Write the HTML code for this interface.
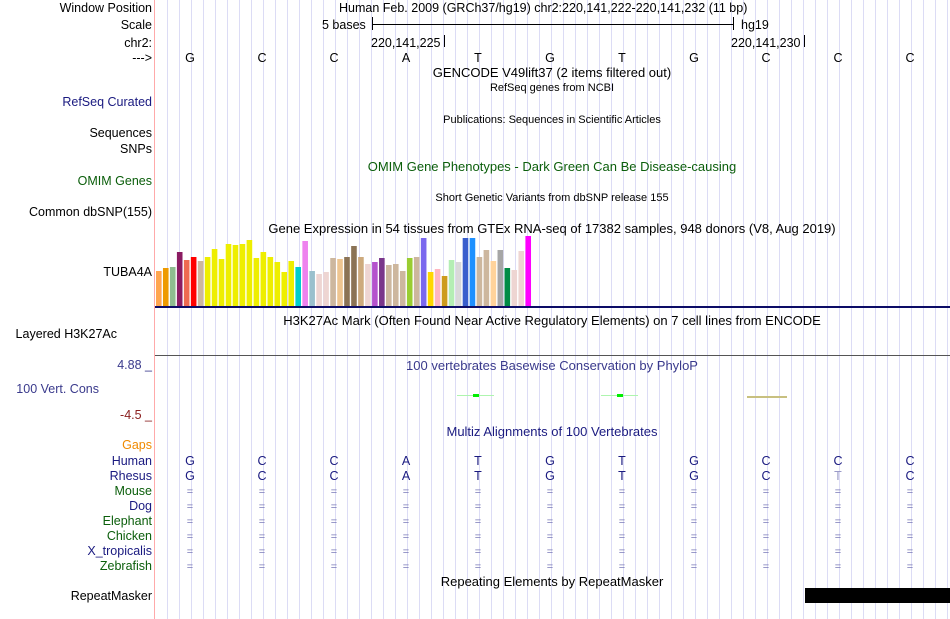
<!DOCTYPE html>
<html><head><meta charset="utf-8"><style>
html,body{margin:0;padding:0;background:#fff;}
svg{display:block;font-family:"Liberation Sans",sans-serif;}
</style></head><body>
<svg id="c" width="950" height="619" viewBox="0 0 950 619">
<g id="grid"></g>
<line x1="154.5" y1="0" x2="154.5" y2="619" stroke="#ffaaaa"/>
<g font-size="12.5" text-anchor="end">
<text x="152" y="12" fill="#000">Window Position</text>
<text x="152" y="29" fill="#000">Scale</text>
<text x="152" y="47" fill="#000">chr2:</text>
<text x="152" y="62" fill="#000">---&gt;</text>
<text x="152" y="106" fill="#1a1a80">RefSeq Curated</text>
<text x="152" y="137" fill="#000">Sequences</text>
<text x="152" y="153" fill="#000">SNPs</text>
<text x="152" y="185" fill="#0b5e0b">OMIM Genes</text>
<text x="152" y="216" fill="#000">Common dbSNP(155)</text>
<text x="152" y="276" fill="#000">TUBA4A</text>
<text x="117" y="338" fill="#000">Layered H3K27Ac</text>
<text x="152" y="369" fill="#3a3a8c">4.88 _</text>
<text x="99" y="393" fill="#3a3a8c">100 Vert. Cons</text>
<text x="152" y="419" fill="#8b2020">-4.5 _</text>
<text x="152" y="449" fill="#f08a00">Gaps</text>
<text x="152" y="465" fill="#1a1a80">Human</text>
<text x="152" y="480" fill="#1a1a80">Rhesus</text>
<text x="152" y="495" fill="#0b5e0b">Mouse</text>
<text x="152" y="510" fill="#1a1a80">Dog</text>
<text x="152" y="525" fill="#0b5e0b">Elephant</text>
<text x="152" y="540" fill="#0b5e0b">Chicken</text>
<text x="152" y="555" fill="#1a1a80">X_tropicalis</text>
<text x="152" y="570" fill="#0b5e0b">Zebrafish</text>
<text x="152" y="600" fill="#000">RepeatMasker</text>
</g>
<g font-size="12.5" fill="#000">
<text x="339" y="12">Human Feb. 2009 (GRCh37/hg19)   chr2:220,141,222-220,141,232 (11 bp)</text>
<text x="322" y="29">5 bases</text>
<line x1="372.5" y1="17" x2="372.5" y2="30" stroke="#000"/>
<line x1="372" y1="24.5" x2="733" y2="24.5" stroke="#000"/>
<line x1="733.5" y1="17" x2="733.5" y2="30" stroke="#000"/>
<text x="741" y="29">hg19</text>
<text x="371" y="47">220,141,225</text>
<line x1="444.5" y1="35" x2="444.5" y2="47" stroke="#000"/>
<text x="731" y="47">220,141,230</text>
<line x1="804.5" y1="35" x2="804.5" y2="47" stroke="#000"/>
</g>
<g font-size="13" text-anchor="middle">
<text x="552" y="77" fill="#000">GENCODE V49lift37 (2 items filtered out)</text>
<text x="552" y="91" font-size="11" fill="#000">RefSeq genes from NCBI</text>
<text x="552" y="123" font-size="11" fill="#000">Publications: Sequences in Scientific Articles</text>
<text x="552" y="171" fill="#0b5e0b">OMIM Gene Phenotypes - Dark Green Can Be Disease-causing</text>
<text x="552" y="201" font-size="11" fill="#000">Short Genetic Variants from dbSNP release 155</text>
<text x="552" y="233" fill="#000">Gene Expression in 54 tissues from GTEx RNA-seq of 17382 samples, 948 donors (V8, Aug 2019)</text>
<text x="552" y="325" fill="#000">H3K27Ac Mark (Often Found Near Active Regulatory Elements) on 7 cell lines from ENCODE</text>
<text x="552" y="370" fill="#3a3a8c">100 vertebrates Basewise Conservation by PhyloP</text>
<text x="552" y="436" fill="#1a1a80">Multiz Alignments of 100 Vertebrates</text>
<text x="552" y="586" fill="#000">Repeating Elements by RepeatMasker</text>
</g>
<line x1="155" y1="307" x2="950" y2="307" stroke="#0c0c66" stroke-width="2"/>
<line x1="155" y1="355.5" x2="950" y2="355.5" stroke="#555"/>
<g id="gtex"></g>
<g>
<line x1="457" y1="395.5" x2="494" y2="395.5" stroke="#aef5ae"/>
<rect x="473" y="394" width="6" height="3" fill="#00ee00"/>
<line x1="601" y1="395.5" x2="638" y2="395.5" stroke="#aef5ae"/>
<rect x="617" y="394" width="6" height="3" fill="#00ee00"/>
<line x1="747" y1="397" x2="787" y2="397" stroke="#c8c080" stroke-width="2"/>
</g>
<g id="bases"></g>
<rect x="805" y="588" width="145" height="15" fill="#000"/>
</svg>
<script>
// GTEx tissue bar values (px heights)
const gtexValues = [35,38,39,54,46,49,45,49,57,47,62,61,62,66,48,54,49,44,34,45,39,65,35,32,34,48,47,49,60,49,42,44,48,41,42,35,48,49,68,34,37,30,46,44,68,68,49,56,45,56,38,36,55,70];
const gtexColors = ["#ffa54f","#ee9a00","#8fbc8f","#8b1c62","#ee6a50","#ff0000","#cdb79e","#eeee00","#eeee00","#eeee00","#eeee00","#eeee00","#eeee00","#eeee00","#eeee00","#eeee00","#eeee00","#eeee00","#eeee00","#eeee00","#00cdcd","#ee82ee","#9ac0cd","#eed5d2","#eed5d2","#cdb79e","#eec591","#8b7355","#8b7355","#cdaa7d","#eed5d2","#b452cd","#7a378b","#cdb79e","#cdb79e","#cdb79e","#9acd32","#cdb79e","#7b68ee","#ffd700","#ffb6c1","#cd9b1d","#b4eeb4","#d9d9d9","#3a5fcd","#1e90ff","#cdb79e","#cdb79e","#ffd39b","#a6a6a6","#008b45","#eed5d2","#eed5d2","#ff00ff"];
const bases = ["G","C","C","A","T","G","T","G","C","C","C"];
const rhesus = ["G","C","C","A","T","G","T","G","C","T","C"];
const gtexBase = 306, gtexX0 = 156, gtexStep = 6.97;
function yScale(v){ return gtexBase - v; }
function xBar(i){ return gtexX0 + i*gtexStep; }
function xBase(i){ return 190 + i*72; }
const NS="http://www.w3.org/2000/svg";
function mk(tag, attrs, parent){ const e=document.createElementNS(NS,tag); for(const k in attrs) e.setAttribute(k,attrs[k]); parent.appendChild(e); return e; }
const grid=document.getElementById('grid');
for(let x=167;x<950;x+=12){
  const l=mk('line',{x1:x+0.5,y1:0,x2:x+0.5,y2:619,stroke:'#dcdcf5'},grid);
  
  
}
const g=document.getElementById('gtex');
gtexValues.forEach((v,i)=>{
  const r=mk('rect',{x:xBar(i).toFixed(2),y:yScale(v),width:5.6,height:v,fill:gtexColors[i]},g);
  
  
});
const b=document.getElementById('bases');
bases.forEach((s,i)=>{
  const t=mk('text',{x:xBase(i),y:62,'font-size':12.5,'text-anchor':'middle',fill:'#000'},b); t.textContent=s;
  
  
  const h=mk('text',{x:xBase(i),y:465,'font-size':12.5,'text-anchor':'middle',fill:'#1a1a80'},b); h.textContent=s;
  
  
  const r=mk('text',{x:xBase(i),y:480,'font-size':12.5,'text-anchor':'middle',fill:rhesus[i]===s?'#1a1a80':'#9a9ac8'},b); r.textContent=rhesus[i];
  
  
  for(let k=0;k<6;k++){
    const e=mk('text',{x:xBase(i),y:495+k*15,'font-size':11,'text-anchor':'middle',fill:'#7a7ab8'},b); e.textContent='=';
    
    
  }
});
</script>
</body></html>
